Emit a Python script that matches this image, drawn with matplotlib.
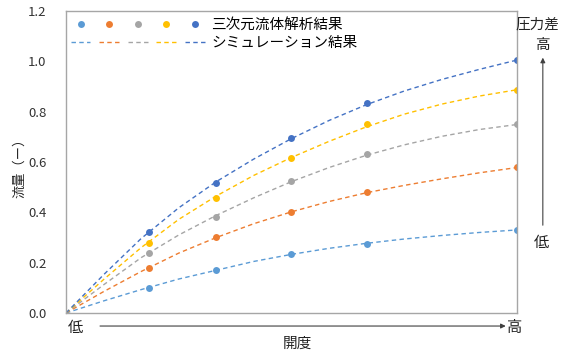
import numpy as np
import matplotlib.pyplot as plt
from matplotlib.legend_handler import HandlerTuple

plt.rcParams['font.family'] = ['Noto Sans CJK JP', 'DejaVu Sans']

# 開度 (arbitrary units) at which the CFD runs were made
cfd_opening = [1.1, 2, 3, 4, 6]
cfd_p1 = [0.10, 0.17, 0.235, 0.275, 0.33]
cfd_p2 = [0.18, 0.30, 0.40, 0.48, 0.58]
cfd_p3 = [0.24, 0.38, 0.525, 0.63, 0.75]
cfd_p4 = [0.28, 0.455, 0.615, 0.75, 0.885]
cfd_p5 = [0.32, 0.515, 0.695, 0.835, 1.005]

# simulation curves, sampled every 0.5
sim_opening = [0, 0.5, 1, 1.5, 2, 2.5, 3, 3.5, 4, 4.5, 5, 5.5, 6]
sim_p1 = [0, 0.048, 0.093, 0.135, 0.170, 0.205, 0.233, 0.257, 0.277, 0.294, 0.308, 0.320, 0.330]
sim_p2 = [0, 0.085, 0.165, 0.238, 0.300, 0.355, 0.402, 0.443, 0.478, 0.507, 0.533, 0.557, 0.578]
sim_p3 = [0, 0.112, 0.220, 0.310, 0.388, 0.458, 0.522, 0.578, 0.627, 0.668, 0.702, 0.729, 0.749]
sim_p4 = [0, 0.133, 0.260, 0.372, 0.465, 0.547, 0.618, 0.682, 0.740, 0.790, 0.830, 0.862, 0.887]
sim_p5 = [0, 0.152, 0.296, 0.418, 0.522, 0.612, 0.693, 0.765, 0.828, 0.882, 0.928, 0.968, 1.005]

colors = ['#5B9BD5', '#ED7D31', '#A5A5A5', '#FFC000', '#4472C4']
cfd_all = [cfd_p1, cfd_p2, cfd_p3, cfd_p4, cfd_p5]
sim_all = [sim_p1, sim_p2, sim_p3, sim_p4, sim_p5]

fig = plt.figure(figsize=(5.72, 3.54), dpi=100)
ax = fig.add_axes([0.1154, 0.1158, 0.7884, 0.8532])

dots, dashes = [], []
for c, sim, cfd in zip(colors, sim_all, cfd_all):
    ln, = ax.plot(sim_opening, sim, color=c, lw=1.0, dashes=(3.2, 2.4))
    pt, = ax.plot(cfd_opening, cfd, 'o', color=c, ms=5, mec='none')
    dashes.append(ln)
    dots.append(pt)

ax.set_xlim(0, 6)
ax.set_ylim(0, 1.2)
ax.set_xticks([])
ax.set_yticks(np.arange(0, 1.21, 0.2))
ax.set_yticklabels([f'{v:.1f}' for v in np.arange(0, 1.21, 0.2)])
ax.tick_params(axis='y', length=0, pad=14, labelsize=9.5, labelcolor='#333333')
for s in ax.spines.values():
    s.set_color('#A6A6A6')
    s.set_linewidth(1.0)

leg = ax.legend([tuple(dots), tuple(dashes)], ['三次元流体解析結果', 'シミュレーション結果'],
                handler_map={tuple: HandlerTuple(ndivide=None, pad=0.6)},
                loc='upper left', bbox_to_anchor=(-0.006, 1.0), frameon=False,
                fontsize=10.5, handlelength=9.2, handletextpad=0.45,
                labelspacing=0.25, borderaxespad=0.3, borderpad=0.2)

tc = '#222222'
arrow = dict(arrowstyle='-|>', color='#404040', lw=0.8, mutation_scale=7)

# 開度 axis
fig.text(0.131, 0.075, '低', fontsize=11, color=tc, ha='center', va='center')
fig.text(0.900, 0.075, '高', fontsize=11, color=tc, ha='center', va='center')
ax.annotate('', xy=(0.889, 0.079), xytext=(0.170, 0.079),
            xycoords='figure fraction', textcoords='figure fraction', arrowprops=arrow)
fig.text(0.519, 0.028, '開度', fontsize=10.5, color=tc, ha='center', va='center')

# 流量 label
fig.text(0.035, 0.534, '流量（ー）', fontsize=9.5, color=tc, rotation=90,
         ha='center', va='center')

# 圧力差 scale on the right
fig.text(0.939, 0.932, '圧力差', fontsize=10.5, color=tc, ha='center', va='center')
fig.text(0.949, 0.874, '高', fontsize=10.5, color=tc, ha='center', va='center')
fig.text(0.947, 0.314, '低', fontsize=11, color=tc, ha='center', va='center')
ax.annotate('', xy=(0.949, 0.845), xytext=(0.949, 0.356),
            xycoords='figure fraction', textcoords='figure fraction', arrowprops=arrow)

fig.savefig('out.png', dpi=100)
